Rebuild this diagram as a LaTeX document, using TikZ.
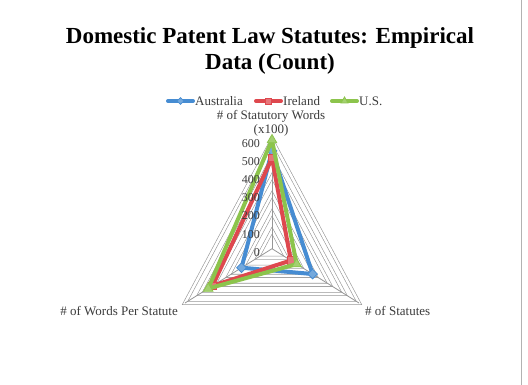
\documentclass[tikz,border=0pt]{standalone}
\usepackage{fontspec}
\setmainfont{Liberation Serif}
\usetikzlibrary{calc,shapes.geometric}
\definecolor{ausblue}{RGB}{70,140,210}
\definecolor{irered}{RGB}{222,72,78}
\definecolor{usgreen}{RGB}{140,196,76}
\definecolor{gridgray}{RGB}{150,150,150}
\definecolor{labelgray}{RGB}{60,60,60}
\tikzset{
  gridring/.style={draw=gridgray,line width=0.6pt,double=white,double distance=2.6pt,line join=miter},
  spoke/.style={draw=gridgray,line width=0.8pt},
  series/.style={line width=4pt,line join=round,line cap=round},
  ausmark/.style={diamond,fill=ausblue!75,draw=ausblue,line width=0.8pt,inner sep=0pt,minimum size=10pt},
  iremark/.style={rectangle,fill=irered!75,draw=irered,line width=0.8pt,inner sep=0pt,minimum size=7.5pt},
  usmark/.style={regular polygon,regular polygon sides=3,fill=usgreen!80,draw=usgreen,line width=0.8pt,inner sep=0pt,minimum size=11pt},
  axislabel/.style={font=\fontsize{13}{14.5}\selectfont,text=labelgray,inner sep=1pt},
  ticklabel/.style={font=\fontsize{12}{14}\selectfont,text=labelgray,anchor=east,inner sep=1pt},
  legendtext/.style={font=\fontsize{13}{15}\selectfont,text=labelgray,anchor=west,inner sep=1pt}
}
\begin{document}
\begin{tikzpicture}[x=1pt,y=-1pt]
\useasboundingbox (0,0) rectangle (528,385);
\fill[white] (0,0) rectangle (528,385);
\draw[gray!60,line width=0.6pt] (521,0) -- (521,385);

% title
\node[font=\bfseries\fontsize{23}{26}\selectfont,align=center] (title) at (270,51)
  {Domestic Patent Law Statutes: Empirical\\Data (Count)};

% radar frame: centre and the three axis ends (value 600)
\coordinate (C) at (272,248.7);
\coordinate (T) at (272,140);
\coordinate (R) at (359,303);
\coordinate (L) at (185,303);

% grid rings every 100
\foreach \k in {1,...,6}{
  \draw[gridring] ($(C)!\k/6!(T)$) -- ($(C)!\k/6!(R)$) -- ($(C)!\k/6!(L)$) -- cycle;
}
\foreach \v in {T,R,L}{ \draw[spoke] (C) -- (\v); }

% axis titles
\node[axislabel,align=center] (topaxis) at (271,123.5) {\# of Statutory Words\\(x100)};
\node[axislabel,anchor=east] (leftaxis) at (179,311) {\# of Words Per Statute};
\node[axislabel,anchor=west] (rightaxis) at (364,311) {\# of Statutes};

% data points (value/600 along each axis)
\coordinate (aT) at ($(C)!540/600!(T)$);
\coordinate (aR) at ($(C)!280/600!(R)$);
\coordinate (aL) at ($(C)!210/600!(L)$);
\coordinate (iT) at ($(C)!500/600!(T)$);
\coordinate (iR) at ($(C)!130/600!(R)$);
\coordinate (iL) at ($(C)!410/600!(L)$);
\coordinate (uT) at ($(C)!600/600!(T)$);
\coordinate (uR) at ($(C)!170/600!(R)$);
\coordinate (uL) at ($(C)!440/600!(L)$);

% series
\draw[series,ausblue] (aT) -- (aR) -- (aL) -- cycle;
\foreach \p in {aT,aR,aL}{ \node[ausmark] at (\p) {}; }
\draw[series,irered] (iT) -- (iR) -- (iL) -- cycle;
\foreach \p in {iT,iR,iL}{ \node[iremark] at (\p) {}; }
\draw[series,usgreen] (uT) -- (uR) -- (uL) -- cycle;
\foreach \p in {uT,uR,uL}{ \node[usmark] at (\p) {}; }

% value labels on the vertical axis, printed over the series
\foreach \k/\lab in {0/0,1/100,2/200,3/300,4/400,5/500,6/600}{
  \node[ticklabel] (tick\k) at ($($(C)!\k/6!(T)$)+(-11,3.5)$) {\lab};
}

% legend
\coordinate (la1) at (168,101); \coordinate (la2) at (193,101);
\coordinate (li1) at (256,101); \coordinate (li2) at (281,101);
\coordinate (lu1) at (332,101); \coordinate (lu2) at (357,101);
\draw[series,ausblue] (la1) -- (la2);
\node[ausmark,minimum size=7pt] (lam) at ($(la1)!0.5!(la2)$) {};
\node[legendtext] (lat) at (194,101) {Australia};
\draw[series,irered] (li1) -- (li2);
\node[iremark,minimum size=6pt] (lim) at ($(li1)!0.5!(li2)$) {};
\node[legendtext] (lit) at (282,101) {Ireland};
\draw[series,usgreen] (lu1) -- (lu2);
\node[usmark,minimum size=8pt] (lum) at ($(lu1)!0.5!(lu2)$) {};
\node[legendtext] (lut) at (358,101) {U.S.};
\end{tikzpicture}
\end{document}
